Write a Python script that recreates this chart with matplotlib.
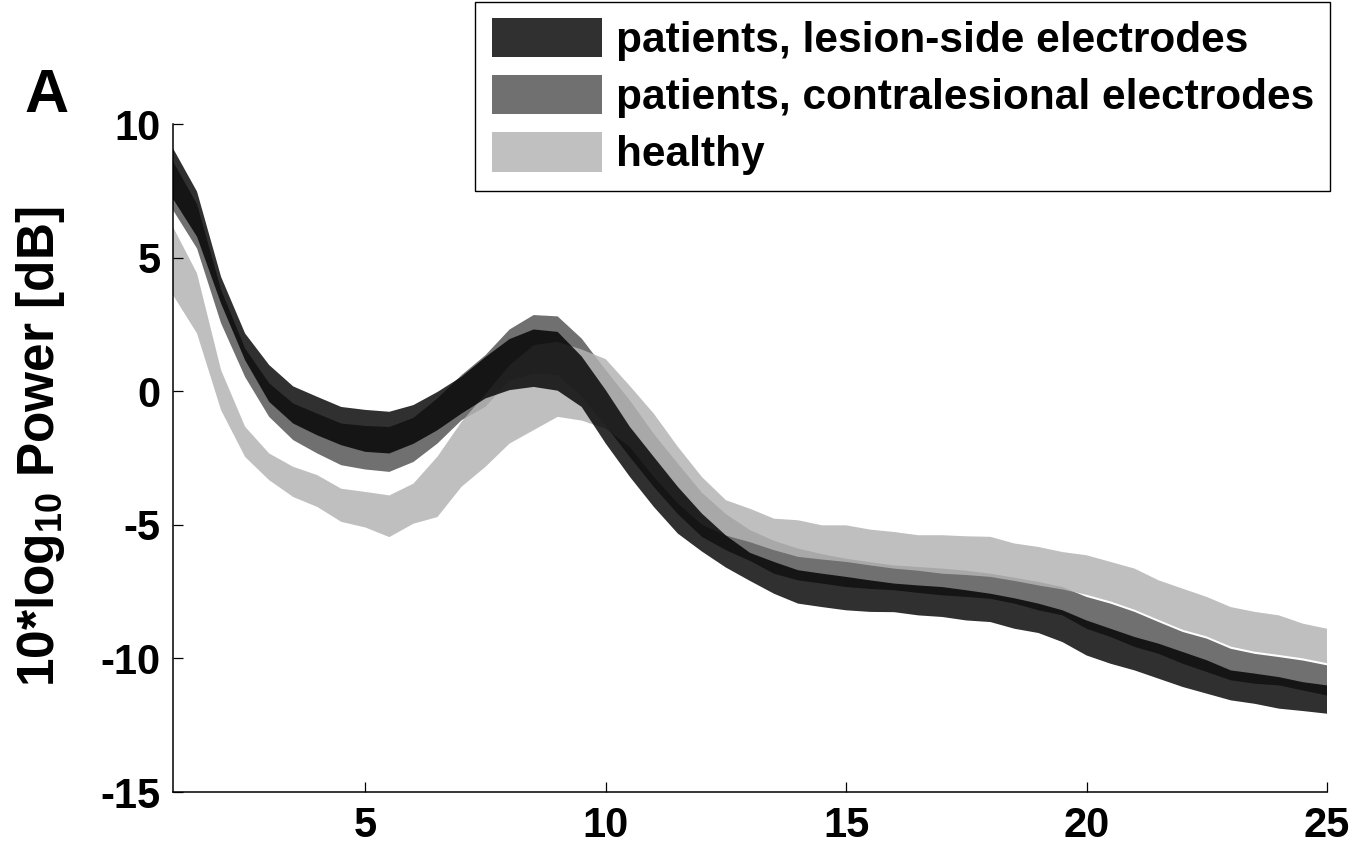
import matplotlib
matplotlib.use("Agg")
import matplotlib.pyplot as plt
from matplotlib.patches import Patch

plt.rcParams['font.family'] = ['Liberation Sans', 'DejaVu Sans']
plt.rcParams['font.weight'] = 'bold'
plt.rcParams['mathtext.fontset'] = 'custom'
plt.rcParams['mathtext.rm'] = 'Liberation Sans:bold'
plt.rcParams['mathtext.bf'] = 'Liberation Sans:bold'
plt.rcParams['mathtext.default'] = 'bf'

freq = [1.0, 1.5, 2.0, 2.5, 3.0, 3.5, 4.0, 4.5, 5.0,
        5.5, 6.0, 6.5, 7.0, 7.5, 8.0, 8.5, 9.0,
        9.5, 10.0, 10.5, 11.0, 11.5, 12.0, 12.5, 13.0,
        13.5, 14.0, 14.5, 15.0, 15.5, 16.0, 16.5, 17.0, 17.5, 18.0, 18.5, 19.0,
        19.5, 20.0, 20.5, 21.0, 21.5, 22.0, 22.5, 23.0, 23.5, 24.0, 24.5, 25.0]

lesion_upper = [9.09, 7.47, 4.28, 2.16, 0.98, 0.18, -0.21, -0.59, -0.70,
                -0.77, -0.52, -0.03, 0.54, 1.28, 1.95, 2.31, 2.22,
                1.30, 0.04, -1.33, -2.46, -3.58, -4.58, -5.40, -6.05,
                -6.39, -6.70, -6.83, -6.95, -7.08, -7.20, -7.27, -7.33, -7.45, -7.58, -7.75, -7.95,
                -8.20, -8.58, -8.89, -9.20, -9.45, -9.76, -10.07, -10.45, -10.57, -10.70, -10.89, -11.01]
lesion_lower = [7.20, 5.78, 3.28, 1.16, -0.40, -1.21, -1.65, -2.02, -2.27,
                -2.33, -1.97, -1.46, -0.84, -0.27, 0.04, 0.16, 0.02,
                -0.59, -1.96, -3.20, -4.33, -5.33, -6.00, -6.60, -7.10,
                -7.58, -7.95, -8.08, -8.20, -8.26, -8.27, -8.39, -8.45, -8.58, -8.64, -8.89, -9.05,
                -9.39, -9.89, -10.20, -10.45, -10.76, -11.07, -11.32, -11.57, -11.70, -11.88, -11.97, -12.07]

contra_upper = [8.60, 7.00, 3.80, 1.60, 0.30, -0.46, -0.84, -1.21, -1.30,
                -1.34, -1.00, -0.27, 0.60, 1.35, 2.31, 2.85, 2.80,
                1.97, 0.79, -0.34, -1.60, -2.71, -3.80, -4.60, -5.20,
                -5.60, -5.89, -6.10, -6.27, -6.40, -6.52, -6.58, -6.64, -6.72, -6.83, -6.98, -7.14,
                -7.33, -7.70, -7.95, -8.26, -8.64, -9.01, -9.26, -9.64, -9.83, -9.95, -10.08, -10.26]
contra_lower = [6.78, 5.34, 2.54, 0.53, -0.96, -1.83, -2.33, -2.77, -2.93,
                -3.02, -2.65, -1.96, -1.09, -0.58, 0.41, 0.66, 0.60,
                -0.20, -1.30, -2.46, -3.58, -4.60, -5.45, -5.95, -6.35,
                -6.83, -7.08, -7.20, -7.33, -7.40, -7.45, -7.55, -7.64, -7.70, -7.77, -7.95, -8.20,
                -8.39, -8.89, -9.20, -9.57, -9.83, -10.20, -10.51, -10.82, -10.95, -11.01, -11.20, -11.39]

healthy_upper = [6.15, 4.41, 0.79, -1.33, -2.33, -2.83, -3.14, -3.65, -3.77,
                 -3.90, -3.46, -2.45, -1.15, -0.10, 0.97, 1.72, 1.85,
                 1.56, 1.20, 0.20, -0.84, -2.08, -3.21, -4.08, -4.40,
                 -4.77, -4.83, -5.02, -5.02, -5.18, -5.27, -5.39, -5.39, -5.43, -5.45, -5.70, -5.83,
                 -6.02, -6.14, -6.39, -6.64, -7.08, -7.39, -7.70, -8.08, -8.26, -8.39, -8.70, -8.89]
healthy_lower = [3.60, 2.16, -0.71, -2.46, -3.33, -3.96, -4.33, -4.89, -5.10,
                 -5.46, -4.96, -4.71, -3.58, -2.83, -1.96, -1.46, -0.96,
                 -1.10, -1.40, -2.09, -3.21, -4.20, -5.00, -5.40, -5.65,
                 -5.95, -6.20, -6.30, -6.39, -6.52, -6.64, -6.72, -6.83, -6.88, -6.95, -7.10, -7.27,
                 -7.42, -7.62, -7.87, -8.18, -8.56, -8.93, -9.18, -9.56, -9.75, -9.87, -10.00, -10.18]

labels = ['patients, lesion-side electrodes',
          'patients, contralesional electrodes',
          'healthy']
legend_colors = ['#303030', '#707070', '#c0c0c0']

xticks = [5, 10, 15, 20, 25]
yticks = [-15, -10, -5, 0, 5, 10]

fig = plt.figure(figsize=(13.72, 8.48), dpi=100)
ax = fig.add_axes([173/1372, 1 - 792/848, (1327 - 173)/1372, (792 - 124)/848])

ax.fill_between(freq, contra_lower, contra_upper, facecolor='#707070', alpha=1.0, linewidth=0)
ax.fill_between(freq, healthy_lower, healthy_upper, facecolor='#b3b3b3', alpha=0.84, linewidth=0)
ax.fill_between(freq, lesion_lower, lesion_upper, facecolor='black', alpha=0.81, linewidth=0)

ax.set_xlim(1, 25)
ax.set_ylim(-15, 10)
ax.set_xticks(xticks)
ax.set_yticks(yticks)
ax.set_xticklabels([str(t) for t in xticks])
ax.set_yticklabels([str(t) for t in yticks])

for s in ['top', 'right']:
    ax.spines[s].set_visible(False)
for s in ['left', 'bottom']:
    ax.spines[s].set_linewidth(1.1)
ax.tick_params(axis='both', direction='in', length=7, width=0.9, labelsize=30)
ax.tick_params(axis='x', pad=10)
ax.tick_params(axis='y', pad=9)
for lab in ax.get_xticklabels() + ax.get_yticklabels():
    lab.set_fontweight('bold')

fig.text(41/1372, 1 - 447/848, '10*log$_{10}$ Power [dB]', fontsize=37,
         fontweight='bold', rotation=90, ha='center', va='center')

fig.text(24/1372, 1 - 112/848, 'A', fontsize=44, fontweight='bold', ha='left', va='baseline')

handles = [Patch(facecolor=c, edgecolor='none') for c in legend_colors]
leg = fig.legend(handles, labels, loc='upper right',
                 bbox_to_anchor=(1330/1372, 1 - 2/848), borderaxespad=0,
                 prop={'weight': 'bold', 'size': 30.5},
                 handlelength=2.6, handleheight=1.05, handletextpad=0.33,
                 labelspacing=0.33, borderpad=0.38, fancybox=False,
                 framealpha=1, edgecolor='black')
leg.get_frame().set_linewidth(1.0)

fig.savefig('out.png', dpi=100)
